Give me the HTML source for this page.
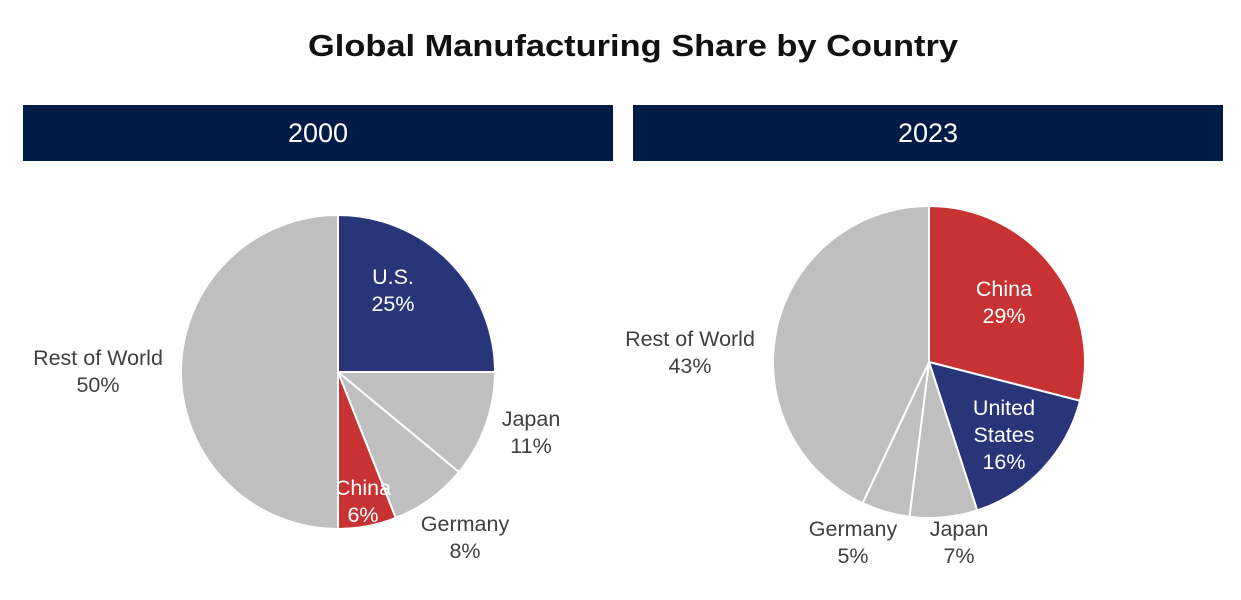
<!DOCTYPE html>
<html><head><meta charset="utf-8"><style>
body{margin:0;background:#fff;width:1241px;height:595px;overflow:hidden;font-family:"Liberation Sans",sans-serif}
</style></head><body>
<svg width="1241" height="595">
<text x="633" y="56" text-anchor="middle" font-size="31" font-weight="bold" fill="#111" textLength="650" lengthAdjust="spacingAndGlyphs">Global Manufacturing Share by Country</text>
<rect x="23" y="105" width="590" height="56" fill="#001b46"/>
<text x="318" y="142" text-anchor="middle" font-size="27" fill="#fff">2000</text>
<rect x="633" y="105" width="590" height="56" fill="#001b46"/>
<text x="928" y="142" text-anchor="middle" font-size="27" fill="#fff">2023</text>
<g id="pies"></g>
</svg>
<script>
const cats2000=["U.S.","Japan","Germany","China","Rest of World"];
const vals2000=[25,11,8,6,50];
const cats2023=["China","United States","Japan","Germany","Rest of World"];
const vals2023=[29,16,7,5,43];
const colorMap={"U.S.":"#283679","United States":"#283679","China":"#c83233","Japan":"#bfbfbf","Germany":"#bfbfbf","Rest of World":"#bfbfbf"};
const NS="http://www.w3.org/2000/svg";
const g=document.getElementById('pies');
function pt(cx,cy,r,f){const a=f*2*Math.PI;return [cx+r*Math.sin(a),cy-r*Math.cos(a)];}
function pie(cats,vals,cx,cy,r,labelPos,tag){
  const tot=vals.reduce((a,b)=>a+b,0);let acc=0;
  cats.forEach((c,i)=>{
    const f0=acc/tot,f1=(acc+vals[i])/tot;acc+=vals[i];
    const p0=pt(cx,cy,r,f0),p1=pt(cx,cy,r,f1);
    const large=(f1-f0)>0.5?1:0;
    const p=document.createElementNS(NS,'path');
    p.setAttribute('d',`M${cx},${cy}L${p0[0]},${p0[1]}A${r},${r} 0 ${large} 1 ${p1[0]},${p1[1]}Z`);
    p.setAttribute('fill',colorMap[c]);p.setAttribute('stroke','#fff');p.setAttribute('stroke-width','2');
    
    
    g.appendChild(p);
    const lp=labelPos[i];const inside=lp[2];
    const fill=inside?'#fff':'#404040';
    const lines=c==="United States"?["United","States"]:[c];
    lines.concat([vals[i]+"%"]).forEach((s,k)=>{
      const t=document.createElementNS(NS,'text');
      t.setAttribute('x',lp[0]);t.setAttribute('y',lp[1]+k*27);
      t.setAttribute('text-anchor','middle');t.setAttribute('font-size','21.5');t.setAttribute('fill',fill);
      t.textContent=s;
      
      
      g.appendChild(t);
    });
  });
}
pie(cats2000,vals2000,338,372,157,[[393,284,1],[531,426,0],[465,531,0],[363,495,1],[98,365,0]],'2000');
pie(cats2023,vals2023,929,362,156,[[1004,296,1],[1004,415,1],[959,536,0],[853,536,0],[690,346,0]],'2023');
</script>
</body></html>
